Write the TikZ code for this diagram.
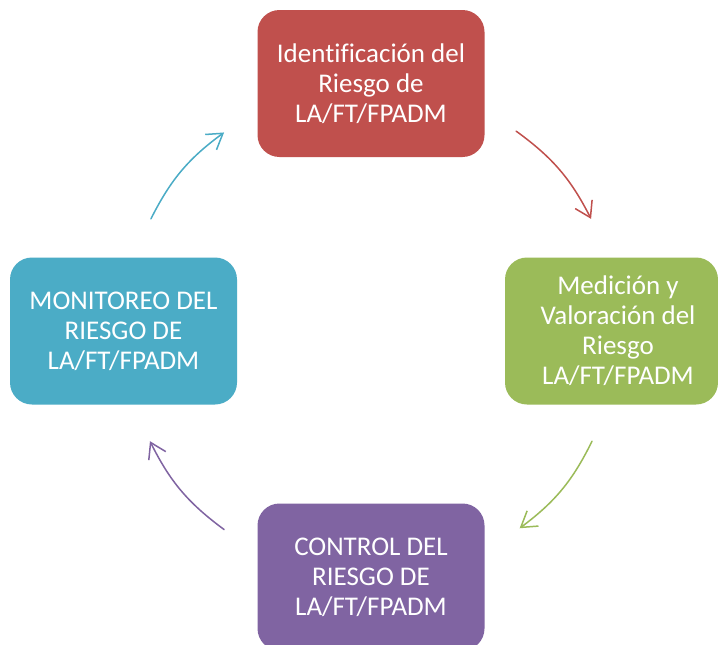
\documentclass[tikz,border=0pt]{standalone}
\usepackage{fontspec}
\setmainfont{Carlito}[Ligatures=NoCommon]
\usetikzlibrary{arrows.meta}
\definecolor{cred}{HTML}{C0504D}
\definecolor{cgreen}{HTML}{9BBB59}
\definecolor{cpurple}{HTML}{8064A2}
\definecolor{cblue}{HTML}{4BACC6}
\begin{document}
\begin{tikzpicture}[x=1pt,y=1pt,
  box/.style={rounded corners=22pt, minimum width=227pt, minimum height=147pt, inner sep=0pt, text=white, align=center, font=\fontsize{27}{30}\selectfont},
  boxtext/.style={inner sep=0pt, text=white, align=center, font=\fontsize{27}{30}\selectfont},
  cyc/.style={line width=1.5pt, line cap=round, -{Straight Barb[length=15pt,width=19pt,line width=1.5pt]}}]
\useasboundingbox (0,0) rectangle (718,-645);
\clip (0,0) rectangle (718,-645);
\fill[white] (0,0) rectangle (718,-645);
\coordinate (o) at (371,-331);
\node[box, fill=cred] (t) at (371,-83.5) {Identificación del\\Riesgo de\\LA/FT/FPADM};
\node[box, fill=cgreen, minimum width=213pt] (r) at (611.5,-331) {};
\node[boxtext] (rt) at (618,-331) {Medición y\\Valoración del\\Riesgo\\LA/FT/FPADM};
\node[box, fill=cpurple] (b) at (371,-577) {CONTROL DEL\\RIESGO DE\\LA/FT/FPADM};
\node[box, fill=cblue] (l) at (123.5,-331) {MONITOREO DEL\\RIESGO DE\\LA/FT/FPADM};
\coordinate (r1) at ([shift={(54:247)}]o);
\coordinate (r2) at ([shift={(27:247)}]o);
\coordinate (g1) at ([shift={(333.5:247)}]o);
\coordinate (g2) at ([shift={(307:247)}]o);
\coordinate (p1) at ([shift={(233.5:247)}]o);
\coordinate (p2) at ([shift={(206.5:247)}]o);
\coordinate (b1) at ([shift={(153:247)}]o);
\coordinate (b2) at ([shift={(126.5:247)}]o);
\draw[cyc, cred] (r1) to[bend left=13.5] (r2);
\draw[cyc, cgreen] (g1) to[bend left=13.5] (g2);
\draw[cyc, cpurple] (p1) to[bend left=13.5] (p2);
\draw[cyc, cblue] (b1) to[bend left=13.5] (b2);
\end{tikzpicture}
\end{document}
